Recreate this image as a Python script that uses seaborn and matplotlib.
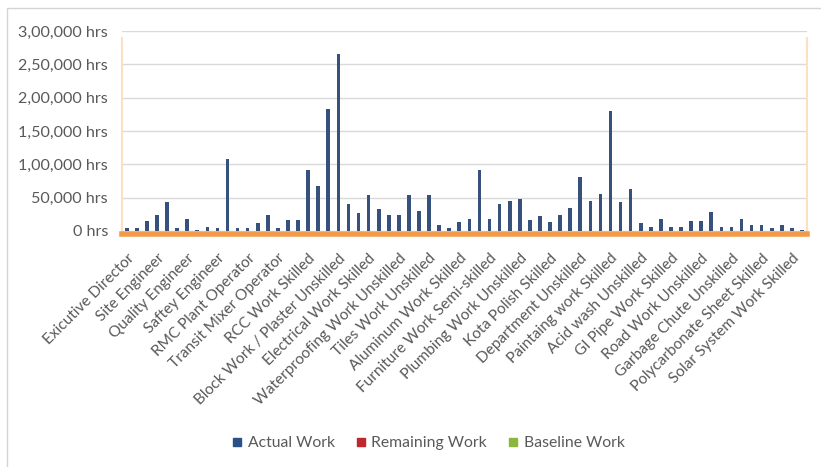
import matplotlib
matplotlib.use("Agg")
import matplotlib.pyplot as plt
import seaborn as sns
import pandas as pd
import numpy as np
from matplotlib.patches import Rectangle
from matplotlib.ticker import FuncFormatter

# ---- data ----
actual_work = [4000, 4000, 14500, 24500, 43000, 4000, 18500, 1000, 5500, 4500,
               108500, 4000, 4000, 11500, 24500, 4000, 16000, 16000, 91000, 68000,
               183000, 265000, 40500, 27500, 53500, 33500, 24500, 24500, 53500, 30500,
               53500, 8500, 4000, 13000, 17500, 91500, 18500, 40500, 44500, 48500,
               16000, 22500, 13000, 24500, 34500, 81000, 44500, 55000, 180500, 43000,
               63000, 12500, 6500, 18500, 6500, 6500, 15500, 15500, 28500, 6500,
               6500, 18500, 8500, 9500, 4000, 9500, 4000, 1500]
remaining_work = [0] * len(actual_work)
baseline_work = [0] * len(actual_work)

tick_labels = ["Exicutive Director", "Site Engineer", "Quality Engineer", "Saftey Engineer",
               "RMC Plant Operator", "Transit Mixer Operator", "RCC Work Skilled",
               "Block Work / Plaster Unskilled", "Electrical Work Skilled",
               "Waterproofing Work Unskilled", "Tiles Work Unskilled", "Aluminum Work Skilled",
               "Furniture Work Semi-skilled", "Plumbing Work Unskilled", "Kota Polish Skilled",
               "Department Unskilled", "Paintaing work Skilled", "Acid wash Unskilled",
               "GI Pipe Work Skilled", "Road Work Unskilled", "Garbage Chute Unskilled",
               "Polycarbonate Sheet Skilled", "Solar System Work Skilled"]
series_names = ["Actual Work", "Remaining Work", "Baseline Work"]
y_ticks = [0, 50000, 100000, 150000, 200000, 250000, 300000]

colors = {"Actual Work": "#2a5088", "Remaining Work": "#c0272d", "Baseline Work": "#8db63c"}

n = len(actual_work)
idx = list(range(n))
df = pd.concat([
    pd.DataFrame({"cat": idx, "hrs": actual_work, "series": series_names[0]}),
    pd.DataFrame({"cat": idx, "hrs": remaining_work, "series": series_names[1]}),
    pd.DataFrame({"cat": idx, "hrs": baseline_work, "series": series_names[2]}),
])

sns.set_style("white")
plt.rcParams['font.family'] = ['Lato', 'DejaVu Sans']

W, H = 821, 467
fig = plt.figure(figsize=(W / 100, H / 100), dpi=100)
ax = fig.add_axes([121.7 / W, (H - 231) / H, (807 - 121.7) / W, 200 / H])

sns.barplot(data=df, x="cat", y="hrs", hue="series", order=idx,
            hue_order=series_names, palette=colors, dodge=False,
            width=0.36, ax=ax, legend=False, linewidth=0)

ax.set_xlim(-0.5, n - 0.5)
ax.set_ylim(0, 300000)
ax.set_yticks(y_ticks)


def indian(v, pos):
    v = int(round(v))
    if v == 0:
        return "0 hrs"
    s = str(v)
    last3 = s[-3:]
    rest = s[:-3]
    groups = []
    while len(rest) > 2:
        groups.insert(0, rest[-2:])
        rest = rest[:-2]
    if rest:
        groups.insert(0, rest)
    return ",".join(groups + [last3]) + " hrs"


ax.yaxis.set_major_formatter(FuncFormatter(indian))
ax.tick_params(axis="y", length=0, pad=9.9, labelsize=11.6, labelcolor="#595959")
ax.tick_params(axis="x", length=0, pad=12.5, labelsize=11.1, labelcolor="#595959",
               labelrotation=45)
ax.set_xticks(list(range(0, n, 3)), tick_labels)
ax.set_xlabel("")
ax.set_ylabel("")
ax.grid(axis="y", color="#d9d9d9", linewidth=1)
ax.set_axisbelow(True)
ax.spines["top"].set_visible(False)
for s in ["left", "right"]:
    ax.spines[s].set_color("#fbe0c4")
    ax.spines[s].set_linewidth(1.5)
    ax.spines[s].set_bounds(0, 290000)
ax.spines["bottom"].set_color("#f39a4a")
ax.spines["bottom"].set_linewidth(4)
ax.spines["bottom"].set_position(("outward", 2))

# outer chart border
fig.patches.append(Rectangle((7 / W, -0.1), 1.2, (H - 8) / H + 0.1,
                             transform=fig.transFigure, fill=False,
                             edgecolor="#d4d4d4", linewidth=1))

handles = [plt.Line2D([], [], marker="s", linestyle="", markersize=6,
                      markerfacecolor=colors[s], markeredgecolor=colors[s]) for s in series_names]
fig.legend(handles, series_names, loc="center", bbox_to_anchor=(428 / W, (H - 443) / H),
           ncol=3, frameon=False, fontsize=11.3, handlelength=0.7, handletextpad=0.35,
           columnspacing=1.3, labelcolor="#595959")

fig.canvas.draw()
for lab in ax.get_xticklabels():
    lab.set_rotation(45)
    lab.set_rotation_mode("anchor")
    lab.set_horizontalalignment("right")
    lab.set_verticalalignment("top")

fig.savefig("out.png", dpi=100)
